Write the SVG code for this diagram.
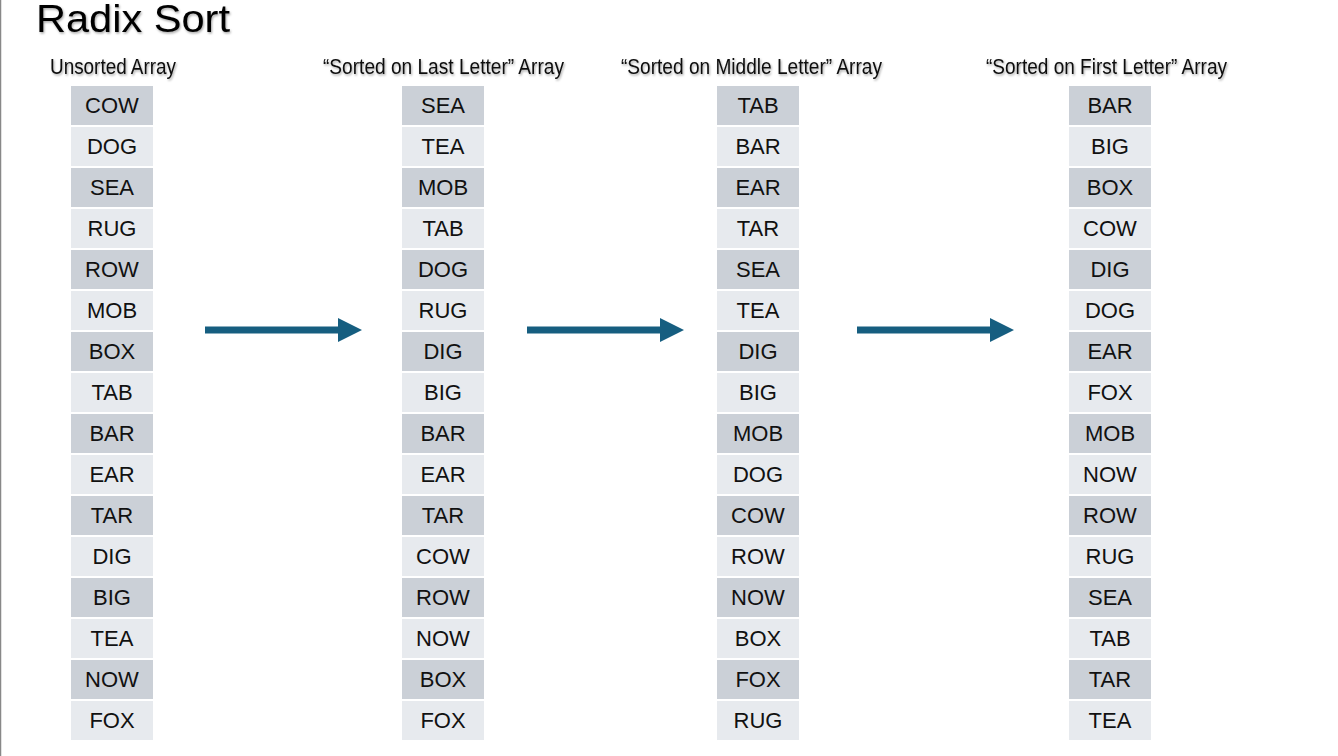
<svg xmlns="http://www.w3.org/2000/svg" width="1338" height="756" viewBox="0 0 1338 756">
<defs>
<style>
.t{font-family:"Liberation Sans",Arial,sans-serif;fill:#000}
.title{font-size:38px}
.hdr{font-size:17px;text-anchor:middle}
.cell text{font-size:22px;text-anchor:middle;font-family:"Liberation Sans",Arial,sans-serif;fill:#111}
.d{fill:#CBD0D7}
.l{fill:#E7EAEE}
.arrow{fill:#165E80}
</style>
<filter id="sh" x="-5%" y="-20%" width="110%" height="150%">
<feDropShadow dx="1" dy="1.5" stdDeviation="0.8" flood-color="#000" flood-opacity="0.35"/>
</filter>
</defs>
<rect x="0" y="0" width="1338" height="756" fill="#fff"/>
<line x1="0.5" y1="0" x2="0.5" y2="756" stroke="#888" stroke-width="1.5"/>
<text class="t title" x="36" y="32" filter="url(#sh)" textLength="194" lengthAdjust="spacingAndGlyphs">Radix Sort</text>

<g id="col1" class="cell">
<text class="t hdr" x="113" y="74" filter="url(#sh)" textLength="126" lengthAdjust="spacingAndGlyphs">Unsorted Array</text>
<rect class="d" x="71" y="86" width="82" height="39"/><text x="112" y="113">COW</text>
<rect class="l" x="71" y="127" width="82" height="39"/><text x="112" y="154">DOG</text>
<rect class="d" x="71" y="168" width="82" height="39"/><text x="112" y="195">SEA</text>
<rect class="l" x="71" y="209" width="82" height="39"/><text x="112" y="236">RUG</text>
<rect class="d" x="71" y="250" width="82" height="39"/><text x="112" y="277">ROW</text>
<rect class="l" x="71" y="291" width="82" height="39"/><text x="112" y="318">MOB</text>
<rect class="d" x="71" y="332" width="82" height="39"/><text x="112" y="359">BOX</text>
<rect class="l" x="71" y="373" width="82" height="39"/><text x="112" y="400">TAB</text>
<rect class="d" x="71" y="414" width="82" height="39"/><text x="112" y="441">BAR</text>
<rect class="l" x="71" y="455" width="82" height="39"/><text x="112" y="482">EAR</text>
<rect class="d" x="71" y="496" width="82" height="39"/><text x="112" y="523">TAR</text>
<rect class="l" x="71" y="537" width="82" height="39"/><text x="112" y="564">DIG</text>
<rect class="d" x="71" y="578" width="82" height="39"/><text x="112" y="605">BIG</text>
<rect class="l" x="71" y="619" width="82" height="39"/><text x="112" y="646">TEA</text>
<rect class="d" x="71" y="660" width="82" height="39"/><text x="112" y="687">NOW</text>
<rect class="l" x="71" y="701" width="82" height="39"/><text x="112" y="728">FOX</text>
</g>

<g id="col2" class="cell">
<text class="t hdr" x="443.5" y="74" filter="url(#sh)" textLength="241" lengthAdjust="spacingAndGlyphs">“Sorted on Last Letter” Array</text>
<rect class="d" x="402" y="86" width="82" height="39"/><text x="443" y="113">SEA</text>
<rect class="l" x="402" y="127" width="82" height="39"/><text x="443" y="154">TEA</text>
<rect class="d" x="402" y="168" width="82" height="39"/><text x="443" y="195">MOB</text>
<rect class="l" x="402" y="209" width="82" height="39"/><text x="443" y="236">TAB</text>
<rect class="d" x="402" y="250" width="82" height="39"/><text x="443" y="277">DOG</text>
<rect class="l" x="402" y="291" width="82" height="39"/><text x="443" y="318">RUG</text>
<rect class="d" x="402" y="332" width="82" height="39"/><text x="443" y="359">DIG</text>
<rect class="l" x="402" y="373" width="82" height="39"/><text x="443" y="400">BIG</text>
<rect class="d" x="402" y="414" width="82" height="39"/><text x="443" y="441">BAR</text>
<rect class="l" x="402" y="455" width="82" height="39"/><text x="443" y="482">EAR</text>
<rect class="d" x="402" y="496" width="82" height="39"/><text x="443" y="523">TAR</text>
<rect class="l" x="402" y="537" width="82" height="39"/><text x="443" y="564">COW</text>
<rect class="d" x="402" y="578" width="82" height="39"/><text x="443" y="605">ROW</text>
<rect class="l" x="402" y="619" width="82" height="39"/><text x="443" y="646">NOW</text>
<rect class="d" x="402" y="660" width="82" height="39"/><text x="443" y="687">BOX</text>
<rect class="l" x="402" y="701" width="82" height="39"/><text x="443" y="728">FOX</text>
</g>

<g id="col3" class="cell">
<text class="t hdr" x="751.5" y="74" filter="url(#sh)" textLength="261" lengthAdjust="spacingAndGlyphs">“Sorted on Middle Letter” Array</text>
<rect class="d" x="717" y="86" width="82" height="39"/><text x="758" y="113">TAB</text>
<rect class="l" x="717" y="127" width="82" height="39"/><text x="758" y="154">BAR</text>
<rect class="d" x="717" y="168" width="82" height="39"/><text x="758" y="195">EAR</text>
<rect class="l" x="717" y="209" width="82" height="39"/><text x="758" y="236">TAR</text>
<rect class="d" x="717" y="250" width="82" height="39"/><text x="758" y="277">SEA</text>
<rect class="l" x="717" y="291" width="82" height="39"/><text x="758" y="318">TEA</text>
<rect class="d" x="717" y="332" width="82" height="39"/><text x="758" y="359">DIG</text>
<rect class="l" x="717" y="373" width="82" height="39"/><text x="758" y="400">BIG</text>
<rect class="d" x="717" y="414" width="82" height="39"/><text x="758" y="441">MOB</text>
<rect class="l" x="717" y="455" width="82" height="39"/><text x="758" y="482">DOG</text>
<rect class="d" x="717" y="496" width="82" height="39"/><text x="758" y="523">COW</text>
<rect class="l" x="717" y="537" width="82" height="39"/><text x="758" y="564">ROW</text>
<rect class="d" x="717" y="578" width="82" height="39"/><text x="758" y="605">NOW</text>
<rect class="l" x="717" y="619" width="82" height="39"/><text x="758" y="646">BOX</text>
<rect class="d" x="717" y="660" width="82" height="39"/><text x="758" y="687">FOX</text>
<rect class="l" x="717" y="701" width="82" height="39"/><text x="758" y="728">RUG</text>
</g>

<g id="col4" class="cell">
<text class="t hdr" x="1106.5" y="74" filter="url(#sh)" textLength="241" lengthAdjust="spacingAndGlyphs">“Sorted on First Letter” Array</text>
<rect class="d" x="1069" y="86" width="82" height="39"/><text x="1110" y="113">BAR</text>
<rect class="l" x="1069" y="127" width="82" height="39"/><text x="1110" y="154">BIG</text>
<rect class="d" x="1069" y="168" width="82" height="39"/><text x="1110" y="195">BOX</text>
<rect class="l" x="1069" y="209" width="82" height="39"/><text x="1110" y="236">COW</text>
<rect class="d" x="1069" y="250" width="82" height="39"/><text x="1110" y="277">DIG</text>
<rect class="l" x="1069" y="291" width="82" height="39"/><text x="1110" y="318">DOG</text>
<rect class="d" x="1069" y="332" width="82" height="39"/><text x="1110" y="359">EAR</text>
<rect class="l" x="1069" y="373" width="82" height="39"/><text x="1110" y="400">FOX</text>
<rect class="d" x="1069" y="414" width="82" height="39"/><text x="1110" y="441">MOB</text>
<rect class="l" x="1069" y="455" width="82" height="39"/><text x="1110" y="482">NOW</text>
<rect class="d" x="1069" y="496" width="82" height="39"/><text x="1110" y="523">ROW</text>
<rect class="l" x="1069" y="537" width="82" height="39"/><text x="1110" y="564">RUG</text>
<rect class="d" x="1069" y="578" width="82" height="39"/><text x="1110" y="605">SEA</text>
<rect class="l" x="1069" y="619" width="82" height="39"/><text x="1110" y="646">TAB</text>
<rect class="d" x="1069" y="660" width="82" height="39"/><text x="1110" y="687">TAR</text>
<rect class="l" x="1069" y="701" width="82" height="39"/><text x="1110" y="728">TEA</text>
</g>

<g id="connectors">
<polygon class="arrow" points="205,326.5 338,326.5 338,318 362,330 338,342 338,333.5 205,333.5"/>
<polygon class="arrow" points="527,326.5 660,326.5 660,318 684,330 660,342 660,333.5 527,333.5"/>
<polygon class="arrow" points="857,326.5 990,326.5 990,318 1014,330 990,342 990,333.5 857,333.5"/>
</g>
</svg>
